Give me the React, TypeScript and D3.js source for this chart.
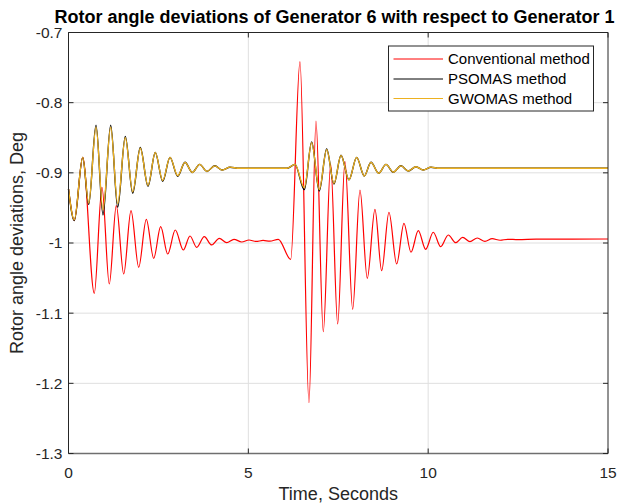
import React from "react";
import * as d3 from "d3";

// ---- data ----
const tDamped = [0, 0.161, 0.395, 0.562, 0.765, 0.959, 1.173, 1.368, 1.579, 1.785, 1.996, 2.21, 2.413, 2.619, 2.822, 3.036, 3.239, 3.442, 3.648, 3.85, 4.065, 4.276, 4.49, 4.75, 5.2, 5.8, 6.08, 6.297, 6.556, 6.761, 6.972, 7.178, 7.381, 7.576, 7.798, 8.012, 8.224, 8.41, 8.624, 8.827, 9.03, 9.244, 9.447, 9.661, 9.864, 10.078, 10.3, 11, 13, 15];
const gwomas = [-0.923, -0.967, -0.878, -0.943, -0.835, -0.953, -0.835, -0.944, -0.85, -0.927, -0.865, -0.918, -0.871, -0.911, -0.878, -0.904, -0.885, -0.8995, -0.888, -0.898, -0.89, -0.896, -0.892, -0.8935, -0.8935, -0.8935, -0.8935, -0.888, -0.921, -0.857, -0.924, -0.867, -0.915, -0.875, -0.91, -0.878, -0.9045, -0.885, -0.9007, -0.888, -0.899, -0.89, -0.8974, -0.8913, -0.896, -0.892, -0.8935, -0.8935, -0.8935, -0.8935];
const psomas = [-0.923, -0.968, -0.878, -0.945, -0.832, -0.96, -0.832, -0.949, -0.848, -0.929, -0.864, -0.919, -0.871, -0.912, -0.878, -0.905, -0.885, -0.8995, -0.888, -0.898, -0.89, -0.896, -0.892, -0.8935, -0.8935, -0.8935, -0.8935, -0.888, -0.924, -0.856, -0.926, -0.866, -0.916, -0.875, -0.91, -0.878, -0.9045, -0.885, -0.9007, -0.888, -0.899, -0.89, -0.8974, -0.8913, -0.896, -0.892, -0.8935, -0.8935, -0.8935, -0.8935];

const tConv = [0, 0.161, 0.395, 0.717, 0.931, 1.134, 1.329, 1.535, 1.738, 1.952, 2.163, 2.369, 2.563, 2.758, 2.969, 3.192, 3.378, 3.564, 3.775, 3.981, 4.192, 4.398, 4.601, 4.815, 5.018, 5.213, 5.41, 5.6, 5.833, 6.178, 6.436, 6.686, 6.881, 7.084, 7.289, 7.484, 7.687, 7.901, 8.104, 8.307, 8.521, 8.707, 8.91, 9.124, 9.327, 9.522, 9.725, 9.931, 10.142, 10.348, 10.559, 10.765, 10.959, 11.162, 11.365, 11.579, 11.78, 12.0, 12.21, 12.5, 13.0, 14.0, 15];
const conventional = [-0.923, -0.968, -0.878, -1.0717, -0.9206, -1.0584, -0.9468, -1.0442, -0.954, -1.0346, -0.9662, -1.0218, -0.9768, -1.0157, -0.9815, -1.01, -0.99, -1.0061, -0.991, -1.0028, -0.9933, -0.9996, -0.9947, -0.9986, -0.9957, -0.9978, -0.9964, -0.9974, -0.9947, -1.0232, -0.7416, -1.2276, -0.8261, -1.1264, -0.8874, -1.1154, -0.8841, -1.0945, -0.9245, -1.0503, -0.952, -1.0395, -0.9562, -1.0299, -0.9719, -1.0132, -0.9825, -1.009, -0.9847, -1.0053, -0.9886, -0.9996, -0.9919, -0.9981, -0.9929, -0.9976, -0.9939, -0.9961, -0.9947, -0.9952, -0.9945, -0.9944, -0.9943];

const xTicks = [0, 5, 10, 15];
const yTicks = [-0.7, -0.8, -0.9, -1, -1.1, -1.2, -1.3];

const title = "Rotor angle deviations of Generator 6 with respect to Generator 1";
const xLabel = "Time, Seconds";
const yLabel = "Rotor angle deviations, Deg";
const legendItems = [
  { name: "Conventional method", color: "#ff0000" },
  { name: "PSOMAS method", color: "#000000" },
  { name: "GWOMAS method", color: "#EDB120" },
];

// ---- layout ----
const W = 619;
const H = 504;
const L = 68.5, R = 608, T = 32.5, B = 453.5;
const FONT = "Arial, 'Liberation Sans', Helvetica, sans-serif";
const AX = "#262626";

export default function App() {
  const x = d3.scaleLinear().domain([0, 15]).range([L, R]);
  const y = d3.scaleLinear().domain([-1.3, -0.7]).range([B, T]);
  const line = d3
    .line<[number, number]>()
    .x((d) => x(d[0]))
    .y((d) => y(d[1]))
    .curve(d3.curveMonotoneX);

  const redPts = tConv.map((t, i) => [t, conventional[i]] as [number, number]);
  const blackPts = tDamped.map((t, i) => [t, psomas[i]] as [number, number]);
  const goldPts = tDamped.map((t, i) => [t, gwomas[i]] as [number, number]);

  const tick = 5;
  const legX = 388.5, legY = 46, legW = 205, legH = 65;
  const rowY = [59, 79, 98.5];

  return (
    <svg
      width={W}
      height={H}
      style={{ position: "absolute", left: 0, top: 0, background: "#fff" }}
      fontFamily={FONT}
    >
      <rect x={0} y={0} width={W} height={H} fill="#fff" />
      {/* grid */}
      {yTicks.slice(1, -1).map((v) => (
        <line key={"gy" + v} x1={L} x2={R} y1={y(v)} y2={y(v)} stroke="#dfdfdf" strokeWidth={1} />
      ))}
      {xTicks.slice(1, -1).map((v) => (
        <line key={"gx" + v} x1={x(v)} x2={x(v)} y1={T} y2={B} stroke="#dfdfdf" strokeWidth={1} />
      ))}

      {/* series */}
      <path d={line(redPts) || ""} fill="none" stroke="#ff0000" strokeWidth={1.2} />
      <path d={line(blackPts) || ""} fill="none" stroke="#000000" strokeWidth={1.4} />
      <path d={line(goldPts) || ""} fill="none" stroke="#EDB120" strokeWidth={1.3} />

      {/* axes box */}
      <line x1={L} x2={R} y1={T} y2={T} stroke={AX} strokeWidth={1} />
      <line x1={R} x2={R} y1={T} y2={B} stroke={AX} strokeWidth={1} />
      <line x1={L} x2={L} y1={T} y2={B} stroke={AX} strokeWidth={1} />
      <line x1={L} x2={R} y1={B} y2={B} stroke="#6f6f6f" strokeWidth={1.6} />

      {/* ticks */}
      {yTicks.map((v) => (
        <g key={"ty" + v}>
          <line x1={L} x2={L + tick} y1={y(v)} y2={y(v)} stroke={AX} />
          <line x1={R} x2={R - tick} y1={y(v)} y2={y(v)} stroke={AX} />
          <text x={L - 6} y={y(v)} dy="0.35em" textAnchor="end" fontSize={15.5} fill={AX}>
            {String(v)}
          </text>
        </g>
      ))}
      {xTicks.map((v) => (
        <g key={"tx" + v}>
          <line x1={x(v)} x2={x(v)} y1={B} y2={B - tick} stroke={AX} />
          <line x1={x(v)} x2={x(v)} y1={T} y2={T + tick} stroke={AX} />
          <text x={x(v)} y={478} textAnchor="middle" fontSize={15.5} fill={AX}>
            {String(v)}
          </text>
        </g>
      ))}

      {/* labels */}
      <text x={334.5} y={23} textAnchor="middle" fontSize={18} fontWeight="bold" fill="#000">
        {title}
      </text>
      <text x={(L + R) / 2} y={500} textAnchor="middle" fontSize={18} fill={AX}>
        {xLabel}
      </text>
      <text
        transform={`translate(23, ${(T + B) / 2}) rotate(-90)`}
        textAnchor="middle"
        fontSize={18}
        fill={AX}
      >
        {yLabel}
      </text>

      {/* legend */}
      <rect x={legX} y={legY} width={legW} height={legH} fill="#fff" stroke="#262626" strokeWidth={1} />
      {legendItems.map((it, i) => (
        <g key={it.name}>
          <line x1={393.5} x2={443} y1={rowY[i]} y2={rowY[i]} stroke={it.color} strokeWidth={1} />
          <text x={448} y={rowY[i]} dy="0.35em" fontSize={15} fill="#000">
            {it.name}
          </text>
        </g>
      ))}
    </svg>
  );
}
